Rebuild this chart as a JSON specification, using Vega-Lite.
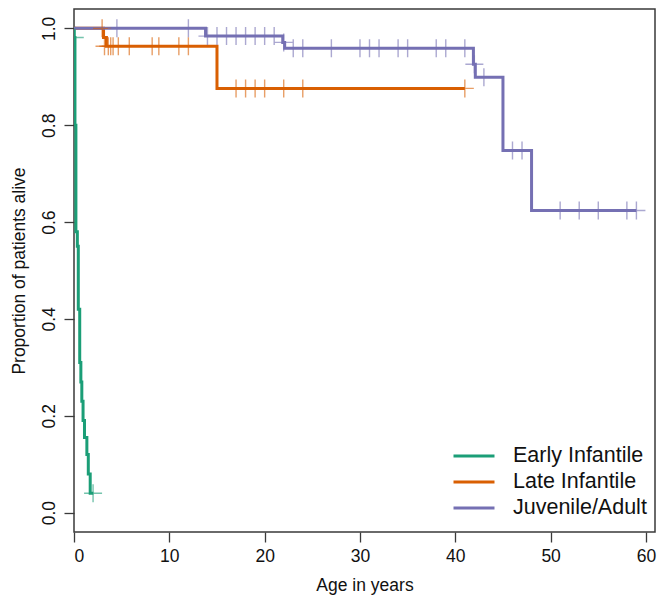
{
  "$schema": "https://vega.github.io/schema/vega-lite/v6.json",
  "width": 581,
  "height": 523,
  "autosize": {"type": "none"},
  "padding": {"left": 74, "top": 9, "right": 3, "bottom": 63},
  "background": "white",
  "config": {
    "view": {"stroke": "#3a3a3a", "strokeWidth": 1.5},
    "font": "Liberation Sans",
    "axis": {
      "domain": false,
      "grid": false,
      "ticks": true,
      "tickSize": 10,
      "tickColor": "#3a3a3a",
      "tickWidth": 1.3,
      "labelFont": "Liberation Sans",
      "labelFontSize": 17.5,
      "labelColor": "#111111",
      "titleFont": "Liberation Sans",
      "titleFontSize": 17.5,
      "titleFontWeight": "normal",
      "titleColor": "#111111"
    }
  },
  "datasets": {
    "curves": [
      {"group": "Early Infantile", "time": 0, "surv": 1.0},
      {"group": "Early Infantile", "time": 0.02, "surv": 0.981},
      {"group": "Early Infantile", "time": 0.1, "surv": 0.8},
      {"group": "Early Infantile", "time": 0.2, "surv": 0.58},
      {"group": "Early Infantile", "time": 0.35, "surv": 0.55},
      {"group": "Early Infantile", "time": 0.45, "surv": 0.42},
      {"group": "Early Infantile", "time": 0.6, "surv": 0.31},
      {"group": "Early Infantile", "time": 0.72, "surv": 0.27},
      {"group": "Early Infantile", "time": 0.82, "surv": 0.23},
      {"group": "Early Infantile", "time": 0.95, "surv": 0.19},
      {"group": "Early Infantile", "time": 1.1, "surv": 0.155},
      {"group": "Early Infantile", "time": 1.35, "surv": 0.12},
      {"group": "Early Infantile", "time": 1.5, "surv": 0.08},
      {"group": "Early Infantile", "time": 1.7, "surv": 0.04},
      {"group": "Early Infantile", "time": 2.03, "surv": 0.04},
      {"group": "Late Infantile", "time": 0, "surv": 1.0},
      {"group": "Late Infantile", "time": 3.1, "surv": 0.981},
      {"group": "Late Infantile", "time": 3.4, "surv": 0.963},
      {"group": "Late Infantile", "time": 15.0, "surv": 0.876},
      {"group": "Late Infantile", "time": 41.0, "surv": 0.876},
      {"group": "Juvenile/Adult", "time": 0, "surv": 1.0},
      {"group": "Juvenile/Adult", "time": 13.8, "surv": 0.984},
      {"group": "Juvenile/Adult", "time": 21.9, "surv": 0.971},
      {"group": "Juvenile/Adult", "time": 22.1, "surv": 0.959},
      {"group": "Juvenile/Adult", "time": 41.9, "surv": 0.926},
      {"group": "Juvenile/Adult", "time": 42.1, "surv": 0.899},
      {"group": "Juvenile/Adult", "time": 45.0, "surv": 0.748},
      {"group": "Juvenile/Adult", "time": 48.0, "surv": 0.624},
      {"group": "Juvenile/Adult", "time": 59.0, "surv": 0.624}
    ],
    "censors": [
      {"group": "Early Infantile", "time": 0.08, "surv": 0.981},
      {"group": "Early Infantile", "time": 2.0, "surv": 0.04},
      {"group": "Late Infantile", "time": 2.95, "surv": 1.0},
      {"group": "Late Infantile", "time": 3.2, "surv": 0.963},
      {"group": "Late Infantile", "time": 3.6, "surv": 0.963},
      {"group": "Late Infantile", "time": 3.85, "surv": 0.963},
      {"group": "Late Infantile", "time": 4.1, "surv": 0.963},
      {"group": "Late Infantile", "time": 4.65, "surv": 0.963},
      {"group": "Late Infantile", "time": 5.8, "surv": 0.963},
      {"group": "Late Infantile", "time": 8.2, "surv": 0.963},
      {"group": "Late Infantile", "time": 8.9, "surv": 0.963},
      {"group": "Late Infantile", "time": 11.0, "surv": 0.963},
      {"group": "Late Infantile", "time": 12.0, "surv": 0.963},
      {"group": "Late Infantile", "time": 17.0, "surv": 0.876},
      {"group": "Late Infantile", "time": 18.0, "surv": 0.876},
      {"group": "Late Infantile", "time": 19.0, "surv": 0.876},
      {"group": "Late Infantile", "time": 20.0, "surv": 0.876},
      {"group": "Late Infantile", "time": 22.0, "surv": 0.876},
      {"group": "Late Infantile", "time": 24.0, "surv": 0.876},
      {"group": "Late Infantile", "time": 41.0, "surv": 0.876},
      {"group": "Juvenile/Adult", "time": 4.5, "surv": 1.0},
      {"group": "Juvenile/Adult", "time": 12.0, "surv": 1.0},
      {"group": "Juvenile/Adult", "time": 14.0, "surv": 0.984},
      {"group": "Juvenile/Adult", "time": 15.0, "surv": 0.984},
      {"group": "Juvenile/Adult", "time": 16.0, "surv": 0.984},
      {"group": "Juvenile/Adult", "time": 17.0, "surv": 0.984},
      {"group": "Juvenile/Adult", "time": 18.0, "surv": 0.984},
      {"group": "Juvenile/Adult", "time": 19.0, "surv": 0.984},
      {"group": "Juvenile/Adult", "time": 20.0, "surv": 0.984},
      {"group": "Juvenile/Adult", "time": 21.0, "surv": 0.984},
      {"group": "Juvenile/Adult", "time": 22.0, "surv": 0.971},
      {"group": "Juvenile/Adult", "time": 23.0, "surv": 0.959},
      {"group": "Juvenile/Adult", "time": 24.0, "surv": 0.959},
      {"group": "Juvenile/Adult", "time": 27.0, "surv": 0.959},
      {"group": "Juvenile/Adult", "time": 30.0, "surv": 0.959},
      {"group": "Juvenile/Adult", "time": 31.0, "surv": 0.959},
      {"group": "Juvenile/Adult", "time": 32.0, "surv": 0.959},
      {"group": "Juvenile/Adult", "time": 34.0, "surv": 0.959},
      {"group": "Juvenile/Adult", "time": 35.0, "surv": 0.959},
      {"group": "Juvenile/Adult", "time": 38.0, "surv": 0.959},
      {"group": "Juvenile/Adult", "time": 39.0, "surv": 0.959},
      {"group": "Juvenile/Adult", "time": 41.0, "surv": 0.959},
      {"group": "Juvenile/Adult", "time": 42.0, "surv": 0.926},
      {"group": "Juvenile/Adult", "time": 43.0, "surv": 0.899},
      {"group": "Juvenile/Adult", "time": 46.0, "surv": 0.748},
      {"group": "Juvenile/Adult", "time": 47.0, "surv": 0.748},
      {"group": "Juvenile/Adult", "time": 51.0, "surv": 0.624},
      {"group": "Juvenile/Adult", "time": 53.0, "surv": 0.624},
      {"group": "Juvenile/Adult", "time": 55.0, "surv": 0.624},
      {"group": "Juvenile/Adult", "time": 58.0, "surv": 0.624},
      {"group": "Juvenile/Adult", "time": 59.0, "surv": 0.624}
    ]
  },
  "layer": [
    {
      "data": {"name": "curves"},
      "mark": {"type": "line", "interpolate": "step-after", "strokeWidth": 3, "clip": true},
      "encoding": {
        "x": {
          "field": "time", "type": "quantitative",
          "scale": {"domain": [0, 60.95], "nice": false, "zero": false},
          "axis": {"values": [0, 10, 20, 30, 40, 50, 60], "title": "Age in years", "labelPadding": 5, "titlePadding": 12}
        },
        "y": {
          "field": "surv", "type": "quantitative",
          "scale": {"domain": [-0.04, 1.04], "nice": false, "zero": false},
          "axis": {"values": [0, 0.2, 0.4, 0.6, 0.8, 1.0], "format": ".1f", "labelAngle": -90, "title": "Proportion of patients alive", "labelPadding": 6, "titlePadding": 12}
        },
        "color": {
          "field": "group", "type": "nominal",
          "scale": {"domain": ["Early Infantile", "Late Infantile", "Juvenile/Adult"], "range": ["#1b9e77", "#d95f02", "#7570b3"]},
          "legend": {
            "orient": "none", "legendX": 388, "legendY": 435, "title": null,
            "symbolType": "M-2,0H2", "symbolSize": 420, "symbolStrokeWidth": 3,
            "labelFont": "Liberation Sans", "labelFontSize": 21.5, "labelColor": "#111111",
            "labelOffset": 27, "padding": 0, "rowPadding": 3
          }
        }
      }
    },
    {
      "data": {"name": "censors"},
      "mark": {"type": "point", "shape": "M-1,0H1M0,-1V1", "size": 324, "strokeWidth": 1.4, "opacity": 0.6, "filled": false, "clip": true},
      "encoding": {
        "x": {"field": "time", "type": "quantitative"},
        "y": {"field": "surv", "type": "quantitative"},
        "color": {"field": "group", "type": "nominal", "legend": null}
      }
    }
  ]
}
